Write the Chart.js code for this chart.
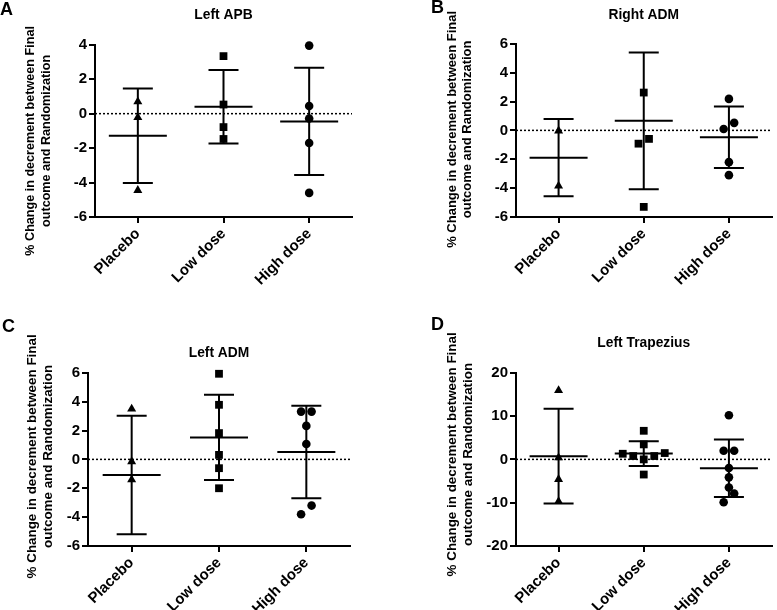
<!DOCTYPE html>
<html>
<head>
<meta charset="utf-8">
<script src="https://cdn.jsdelivr.net/npm/chart.js@4.4.1/dist/chart.umd.min.js"></script>
<style>
  html, body { margin: 0; padding: 0; background: #fff; }
  #wrap { position: relative; width: 777px; height: 610px; overflow: hidden; }
  canvas { position: absolute; }
</style>
</head>
<body>
<div id="wrap">
  <canvas id="chartA" width="388" height="300" style="left:0;top:0"></canvas>
  <canvas id="chartB" width="389" height="300" style="left:388px;top:0"></canvas>
  <canvas id="chartC" width="388" height="310" style="left:0;top:300px"></canvas>
  <canvas id="chartD" width="389" height="310" style="left:388px;top:300px"></canvas>
</div>
<script>
const categories = ['Placebo', 'Low dose', 'High dose'];
const yTitle = ['% Change in decrement between Final', 'outcome and Randomization'];

// A - Left APB
const apbPlacebo = [0.69, -0.22, -4.45];
const apbLow = [3.34, 0.53, -0.78, -1.47];
const apbHigh = [3.95, 0.44, -0.28, -1.70, -4.60];
const apbMean = [-1.28, 0.40, -0.45];
const apbSd = [2.74, 2.13, 3.11];
const apbTicks = [-6, -4, -2, 0, 2, 4];

// B - Right ADM
const radmPlacebo = [-0.03, -3.85];
const radmLow = [2.62, -0.59, -0.92, -5.30];
const radmHigh = [2.18, 0.10, 0.52, -2.20, -3.10];
const radmMean = [-1.89, 0.66, -0.48];
const radmSd = [2.67, 4.74, 2.13];
const radmTicks = [-6, -4, -2, 0, 2, 4, 6];

// C - Left ADM
const ladmPlacebo = [3.50, -0.15, -1.40];
const ladmLow = [5.93, 3.78, 1.82, 0.31, -0.61, -2.00];
const ladmHigh = [3.31, 3.31, 2.32, 1.07, -3.20, -3.80];
const ladmMean = [-1.08, 1.52, 0.51];
const ladmSd = [4.10, 2.95, 3.20];
const ladmTicks = [-6, -4, -2, 0, 2, 4, 6];

// D - Left Trapezius
const trapPlacebo = [15.9, 0.4, -4.6, -9.7];
const trapLow = [6.6, 3.46, 1.46, 1.3, 0.77, 0.77, 0.0, -3.5];
const trapHigh = [10.2, 2.0, 2.0, -2.0, -4.15, -6.5, -7.9, -9.9];
const trapMean = [0.75, 1.33, -2.05];
const trapSd = [10.95, 2.88, 6.65];
const trapTicks = [-20, -10, 0, 10, 20];

const FONT = '"Liberation Sans", Arial, sans-serif';
const pointStyles = ['triangle', 'rect', 'circle'];
const pointSizes = [5.2, 5.5, 4.3];

// spread points that would overlap, like a dot plot
function swarmPlugin(step, tol) {
  return {
    id: 'swarm',
    afterDatasetsUpdate(chart) {
      chart.data.datasets.forEach((ds, d) => {
        const pts = chart.getDatasetMeta(d).data.slice().sort((a, b) => b.y - a.y);
        let k = 0;
        while (k < pts.length) {
          let n = 1;
          while (k + n < pts.length && pts[k].y - pts[k + n].y < tol) n++;
          for (let j = 0; j < n; j++) {
            const slot = n % 2
              ? Math.ceil(j / 2) * (j % 2 ? -1 : 1)
              : (Math.floor(j / 2) + 0.5) * (j % 2 ? 1 : -1);
            pts[k + j].x += slot * step;
          }
          k += n;
        }
      });
    }
  };
}

// mean +- SD bars and the dotted zero line
function errorBarPlugin(mean, sd) {
  return {
    id: 'errorBars',
    beforeDatasetsDraw(chart) {
      const {ctx, chartArea, scales: {x, y}} = chart;
      ctx.save();
      ctx.strokeStyle = '#000';
      ctx.lineWidth = 1.5;
      ctx.setLineDash([2, 2]);
      const y0 = y.getPixelForValue(0);
      ctx.beginPath();
      ctx.moveTo(chartArea.left, y0);
      ctx.lineTo(chartArea.right, y0);
      ctx.stroke();
      ctx.setLineDash([]);
      ctx.lineWidth = 2;
      mean.forEach((m, i) => {
        const cx = x.getPixelForValue(i);
        const ym = y.getPixelForValue(m);
        const yt = y.getPixelForValue(m + sd[i]);
        const yb = y.getPixelForValue(m - sd[i]);
        ctx.beginPath();
        ctx.moveTo(cx, yt); ctx.lineTo(cx, yb);
        ctx.moveTo(cx - 15, yt); ctx.lineTo(cx + 15, yt);
        ctx.moveTo(cx - 15, yb); ctx.lineTo(cx + 15, yb);
        ctx.moveTo(cx - 29, ym); ctx.lineTo(cx + 29, ym);
        ctx.stroke();
      });
      ctx.restore();
    }
  };
}

// panel letter and the two-line y axis title
function sideTextPlugin(p) {
  return {
    id: 'sideText',
    afterDraw(chart) {
      const {ctx, chartArea} = chart;
      ctx.save();
      ctx.fillStyle = '#000';
      ctx.font = 'bold 18px ' + FONT;
      ctx.textAlign = 'left';
      ctx.textBaseline = 'alphabetic';
      ctx.fillText(p.letter, p.letterX, p.letterY);
      ctx.font = 'bold ' + p.titleSize + 'px ' + FONT;
      ctx.textAlign = 'center';
      ctx.textBaseline = 'middle';
      const cy = (chartArea.top + chartArea.bottom) / 2 + p.titleShift;
      yTitle.forEach((line, i) => {
        ctx.save();
        ctx.translate(chartArea.left - p.titleGap + i * p.titleLead, cy);
        ctx.rotate(-Math.PI / 2);
        ctx.fillText(line, 0, 0);
        ctx.restore();
      });
      ctx.restore();
    }
  };
}

function makeChart(id, title, groups, mean, sd, ticks, lay) {
  const datasets = groups.map((vals, i) => ({
    data: vals.map(v => ({x: categories[i], y: v})),
    pointStyle: pointStyles[i],
    pointRadius: pointSizes[i],
    pointBorderWidth: 0,
    backgroundColor: '#000',
    borderColor: '#000',
    showLine: false,
    clip: false
  }));
  return new Chart(document.getElementById(id), {
    type: 'scatter',
    data: {datasets},
    options: {
      responsive: false,
      animation: false,
      events: [],
      layout: {padding: {left: lay.left, right: lay.right, top: 0, bottom: 0}},
      plugins: {
        legend: {display: false},
        tooltip: {enabled: false},
        title: {
          display: true,
          text: title,
          fullSize: false,
          color: '#000',
          font: {family: FONT, size: 13.8, weight: 'bold'},
          padding: {top: lay.titleTop, bottom: lay.titleBottom}
        }
      },
      scales: {
        x: {
          type: 'category',
          labels: categories,
          offset: true,
          afterFit: s => { s.height = lay.xHeight; },
          border: {display: true, color: '#000', width: 2},
          grid: {display: true, drawOnChartArea: false, drawTicks: true, tickLength: 6, color: '#000', lineWidth: 2},
          ticks: {color: '#000', font: {family: FONT, size: 15, weight: 'bold'}, minRotation: 45, maxRotation: 45, padding: 2}
        },
        y: {
          min: ticks[0],
          max: ticks[ticks.length - 1],
          afterFit: s => { s.width = 31; },
          afterBuildTicks: s => { s.ticks = ticks.map(v => ({value: v})); },
          border: {display: true, color: '#000', width: 2},
          grid: {display: true, drawOnChartArea: false, drawTicks: true, tickLength: 6, color: '#000', lineWidth: 2},
          ticks: {color: '#000', font: {family: FONT, size: 15, weight: 'bold'}, padding: 2}
        }
      }
    },
    plugins: [swarmPlugin(10.5, 9), errorBarPlugin(mean, sd), sideTextPlugin(lay.side)]
  });
}

makeChart('chartA', 'Left APB', [apbPlacebo, apbLow, apbHigh], apbMean, apbSd, apbTicks,
  {left: 64, right: 36, titleTop: 6.7, titleBottom: 21.5, xHeight: 83,
   side: {letter: 'A', letterX: 0, letterY: 15, titleSize: 12.6, titleGap: 64, titleLead: 15.5, titleShift: 10}});
makeChart('chartB', 'Right ADM', [radmPlacebo, radmLow, radmHigh], radmMean, radmSd, radmTicks,
  {left: 97, right: 1, titleTop: 6.7, titleBottom: 20.5, xHeight: 83,
   side: {letter: 'B', letterX: 43, letterY: 13, titleSize: 13, titleGap: 64, titleLead: 15.5, titleShift: -1}});
makeChart('chartC', 'Left ADM', [ladmPlacebo, ladmLow, ladmHigh], ladmMean, ladmSd, ladmTicks,
  {left: 57, right: 38, titleTop: 44.7, titleBottom: 11.5, xHeight: 64,
   side: {letter: 'C', letterX: 2, letterY: 32, titleSize: 13.4, titleGap: 56, titleLead: 16, titleShift: -3}});
makeChart('chartD', 'Left Trapezius', [trapPlacebo, trapLow, trapHigh], trapMean, trapSd, trapTicks,
  {left: 97, right: 1, titleTop: 34.7, titleBottom: 21.5, xHeight: 64,
   side: {letter: 'D', letterX: 43, letterY: 30, titleSize: 13.4, titleGap: 64, titleLead: 16, titleShift: -5}});
</script>
</body>
</html>
